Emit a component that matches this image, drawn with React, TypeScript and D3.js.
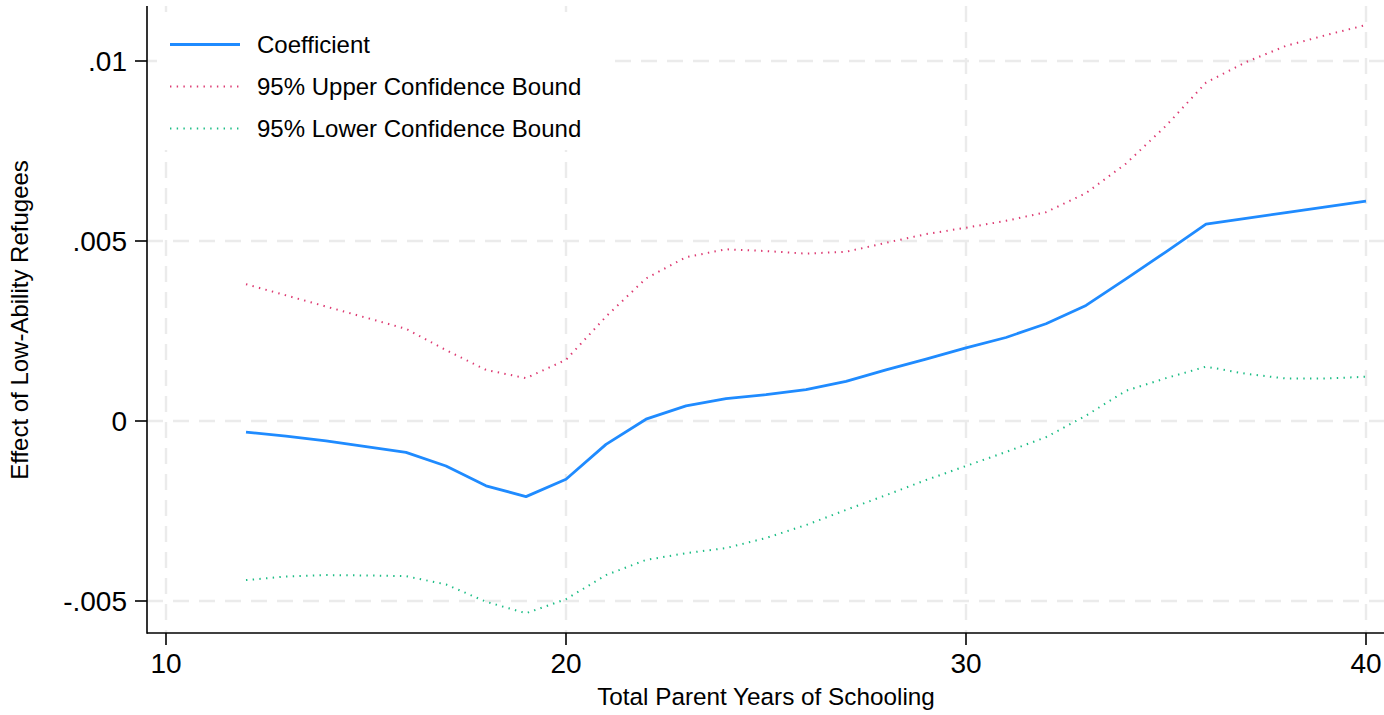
import React from 'react';
import * as d3 from 'd3';

// --- data ---
const years = [12, 13, 14, 15, 16, 17, 18, 19, 20, 21, 22, 23, 24, 25, 26, 27, 28, 29, 30, 31, 32, 33, 34, 35, 36, 37, 38, 39, 40];
const coefficient = [-0.00031, -0.00042, -0.00055, -0.00071, -0.00087, -0.00125, -0.0018, -0.0021, -0.00162, -0.00065, 0.00005, 0.00042, 0.00062, 0.00073, 0.00087, 0.0011, 0.00142, 0.00172, 0.00203, 0.00232, 0.0027, 0.00321, 0.00395, 0.0047, 0.00547, 0.00563, 0.00579, 0.00595, 0.00611];
const upperBound = [0.0038, 0.00349, 0.00318, 0.00287, 0.00256, 0.00197, 0.00142, 0.00119, 0.0017, 0.0029, 0.00396, 0.00455, 0.00477, 0.00472, 0.00465, 0.0047, 0.00495, 0.00519, 0.00537, 0.00556, 0.0058, 0.00633, 0.00715, 0.0082, 0.0094, 0.00997, 0.01042, 0.01072, 0.011];
const lowerBound = [-0.00442, -0.00432, -0.00428, -0.00429, -0.00431, -0.00454, -0.00502, -0.00534, -0.00495, -0.00428, -0.00386, -0.00367, -0.00353, -0.00325, -0.00289, -0.00247, -0.00206, -0.00164, -0.00125, -0.00086, -0.00045, 0.00015, 0.00084, 0.00119, 0.00151, 0.00131, 0.00118, 0.00118, 0.00123];

const xTicks = [10, 20, 30, 40];
const yTicks = [-0.005, 0, 0.005, 0.01];
const yTickLabels = ['-.005', '0', '.005', '.01'];

const legendItems = [
  { label: 'Coefficient', color: '#1f8bff', width: 2.8, dash: null },
  { label: '95% Upper Confidence Bound', color: '#dd3a72', width: 2, dash: '1.4,5.3' },
  { label: '95% Lower Confidence Bound', color: '#1cbd85', width: 2, dash: '1.4,5.3' },
];

const W = 1384;
const H = 715;
const plot = { left: 147, right: 1384, top: 6, bottom: 633 };
const font = '"Liberation Sans", Arial, sans-serif';

const App = () => {
  // scales: 10 -> 166px, 40 -> 1366px ; .01 -> 61px, -.005 -> 601px
  const x = d3.scaleLinear().domain([10, 40]).range([166, 1366]);
  const y = d3.scaleLinear().domain([-0.005, 0.01]).range([601, 61]);

  const line = (vals: number[]) =>
    d3.line<number>().x((_, i) => x(years[i])).y(d => y(d))(vals) || '';

  const series = [coefficient, upperBound, lowerBound];
  const gridColor = '#ebebeb';

  return (
    <div style={{ position: 'fixed', left: 0, top: 0 }}>
      <svg width={W} height={H} style={{ display: 'block', background: '#fff' }} fontFamily={font}>
        {/* grid */}
        {xTicks.map(t => (
          <line key={'gx' + t} x1={x(t)} x2={x(t)} y1={plot.top} y2={plot.bottom} stroke={gridColor} strokeWidth={2.4} strokeDasharray="16,10" />
        ))}
        {yTicks.map(t => (
          <line key={'gy' + t} x1={plot.left} x2={plot.right} y1={y(t)} y2={y(t)} stroke={gridColor} strokeWidth={2.4} strokeDasharray="16,10" />
        ))}

        {/* series, drawn bottom-up so coefficient sits on top */}
        {[2, 1, 0].map(i => (
          <path
            key={'s' + i}
            d={line(series[i])}
            fill="none"
            stroke={legendItems[i].color}
            strokeWidth={legendItems[i].width}
            strokeDasharray={legendItems[i].dash || undefined}
            strokeLinejoin="round"
          />
        ))}

        {/* legend */}
        <rect x={157} y={12} width={456} height={138} fill="#fff" />
        {legendItems.map((d, i) => {
          const ly = 44.5 + i * 42;
          return (
            <g key={d.label}>
              <line x1={170} x2={240} y1={ly} y2={ly} stroke={d.color} strokeWidth={d.width} strokeDasharray={d.dash || undefined} />
              <text x={257} y={ly + 8.5} fontSize={24} fill="#000">{d.label}</text>
            </g>
          );
        })}

        {/* axes */}
        <line x1={plot.left} x2={plot.left} y1={plot.top} y2={plot.bottom + 0.8} stroke="#000" strokeWidth={1.6} />
        <line x1={plot.left} x2={plot.right} y1={plot.bottom} y2={plot.bottom} stroke="#000" strokeWidth={1.6} />
        {yTicks.map((t, i) => (
          <g key={'yt' + t}>
            <line x1={plot.left - 12} x2={plot.left} y1={y(t)} y2={y(t)} stroke="#000" strokeWidth={1.6} />
            <text x={127} y={y(t) + 10} fontSize={28} textAnchor="end" fill="#000">{yTickLabels[i]}</text>
          </g>
        ))}
        {xTicks.map(t => (
          <g key={'xt' + t}>
            <line x1={x(t)} x2={x(t)} y1={plot.bottom} y2={plot.bottom + 12} stroke="#000" strokeWidth={1.6} />
            <text x={x(t)} y={673} fontSize={28} textAnchor="middle" fill="#000">{t}</text>
          </g>
        ))}

        {/* axis titles */}
        <text x={766} y={705} fontSize={24.3} textAnchor="middle" fill="#000">Total Parent Years of Schooling</text>
        <text transform="translate(28,320) rotate(-90)" fontSize={24} textAnchor="middle" fill="#000">Effect of Low-Ability Refugees</text>
      </svg>
    </div>
  );
};

export default App;
